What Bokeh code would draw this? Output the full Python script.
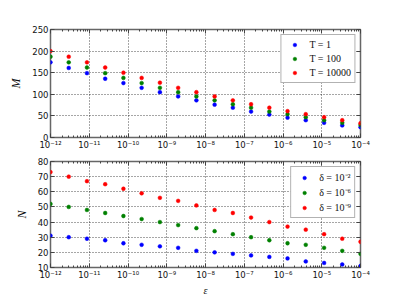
from bokeh.plotting import figure
from bokeh.models import (Range1d, FixedTicker, CustomJSTickFormatter, Legend, LegendItem,
                          LinearAxis, LogAxis)
from bokeh.layouts import column
from bokeh.embed import file_html
from bokeh.resources import INLINE

# ---- data ----
eps = [1.0e-12, 2.955e-12, 8.73e-12, 2.58e-11, 7.62e-11, 2.25e-10, 6.66e-10, 1.97e-9,
       5.82e-9, 1.72e-8, 5.08e-8, 1.50e-7, 4.44e-7, 1.31e-6, 3.87e-6, 1.15e-5, 3.38e-5, 1.0e-4]

M_T1 = [174, 161, 149, 136, 126, 115, 105, 95, 86, 76, 69, 60, 53, 46, 40, 34, 28, 24]
M_T100 = [187, 174, 162, 149, 138, 126, 115, 105, 95, 86, 77, 69, 60, 54, 47, 40, 34, 29]
M_T10000 = [200, 187, 174, 162, 150, 138, 127, 115, 105, 95, 86, 77, 69, 61, 54, 47, 40, 33]

N_d2 = [31, 30, 29, 28, 26, 25, 24, 23, 21, 20, 19, 18, 17, 16, 14, 13, 12, 11]
N_d6 = [52, 50, 48, 46, 44, 42, 40, 38, 36, 34, 32, 30, 28, 26, 25, 23, 21, 19]
N_d9 = [73, 70, 67, 65, 62, 59, 56, 54, 51, 48, 46, 43, 40, 37, 35, 32, 29, 27]

top_labels = ["T = 1", "T = 100", "T = 10000"]
bottom_labels = ["δ = 10⁻²", "δ = 10⁻⁶", "δ = 10⁻⁹"]
colors = ["#0000ff", "#008000", "#ff0000"]

x_ticks = [1e-12, 1e-11, 1e-10, 1e-9, 1e-8, 1e-7, 1e-6, 1e-5, 1e-4]
x_tick_labels = ["10⁻¹²", "10⁻¹¹", "10⁻¹⁰", "10⁻⁹", "10⁻⁸", "10⁻⁷", "10⁻⁶", "10⁻⁵", "10⁻⁴"]
x_minor = [m * t for t in x_ticks[:-1] for m in range(2, 10)]
M_ticks = [0, 50, 100, 150, 200, 250]
N_ticks = [10, 20, 30, 40, 50, 60, 70, 80]

FRAME = "#666666"


def xformatter():
    return CustomJSTickFormatter(args=dict(vals=x_ticks, labels=x_tick_labels), code="""
        let best = 0, bd = 1e9;
        for (let i = 0; i < vals.length; i++) {
            const d = Math.abs(Math.log10(vals[i]) - Math.log10(tick));
            if (d < bd) { bd = d; best = i; }
        }
        return labels[best];
    """)


def style_axis(ax, show_labels=True):
    ax.major_tick_in = 4
    ax.major_tick_out = 0
    ax.minor_tick_in = 2
    ax.minor_tick_out = 0
    ax.axis_line_color = None
    ax.major_tick_line_color = "#444444"
    ax.minor_tick_line_color = "#444444"
    ax.major_label_text_font = "DejaVu Sans"
    if show_labels:
        ax.major_label_text_font_size = "8.5px"
        ax.major_label_standoff = 2
    else:
        ax.major_label_text_font_size = "1px"
        ax.major_label_text_alpha = 0
        ax.major_label_standoff = 0
    ax.major_label_text_color = "#111111"
    ax.axis_label_text_font = "Liberation Serif"
    ax.axis_label_text_font_style = "italic"
    ax.axis_label_text_color = "#111111"


def make_fig(ys, yticks, ylabel, labels, xlabel, height, mb_top, mb_bottom):
    p = figure(x_axis_type="log", width=392, height=height, title=None,
               x_range=Range1d(1e-12, 1e-4), y_range=Range1d(yticks[0], yticks[-1]),
               output_backend="svg", toolbar_location=None,
               min_border_left=50, min_border_right=32,
               min_border_top=mb_top, min_border_bottom=mb_bottom)
    p.outline_line_color = FRAME
    p.outline_line_width = 1.5
    p.background_fill_color = "white"
    p.border_fill_color = "white"

    xt = FixedTicker(ticks=x_ticks, minor_ticks=x_minor)
    yt = FixedTicker(ticks=yticks)
    p.xaxis.ticker = xt
    p.xaxis.formatter = xformatter()
    p.yaxis.ticker = yt
    p.yaxis.axis_label = ylabel
    p.yaxis.axis_label_text_font_size = "12px"
    p.yaxis.axis_label_standoff = 6
    if xlabel:
        p.xaxis.axis_label = xlabel
        p.xaxis.axis_label_text_font_size = "10px"
        p.xaxis.axis_label_standoff = 2
    for ax in p.xaxis + p.yaxis:
        style_axis(ax)
    p.yaxis.minor_tick_line_color = None

    top_ax = LogAxis(ticker=xt)
    right_ax = LinearAxis(ticker=yt)
    style_axis(top_ax, False)
    style_axis(right_ax, False)
    right_ax.minor_tick_line_color = None
    p.add_layout(top_ax, "above")
    p.add_layout(right_ax, "right")

    p.xgrid.grid_line_color = "black"
    p.ygrid.grid_line_color = "black"
    p.xgrid.grid_line_alpha = 0.7
    p.ygrid.grid_line_alpha = 0.7
    p.xgrid.grid_line_dash = "1 2"
    p.ygrid.grid_line_dash = "1 2"
    p.xgrid.grid_line_width = 1
    p.ygrid.grid_line_width = 1

    items = []
    for y, c, lab in zip(ys, colors, labels):
        r = p.scatter(eps, y, size=3.8, color=c, line_color=c, line_width=0.5)
        items.append(LegendItem(label=lab, renderers=[r]))
    leg = Legend(items=items, location="top_right", margin=5, padding=3, spacing=1,
                 glyph_width=20, glyph_height=9, label_height=13, label_standoff=5,
                 label_text_font="Liberation Serif", label_text_font_size="10px",
                 label_text_color="#111111",
                 border_line_color=FRAME, border_line_width=1.5, background_fill_alpha=1)
    p.add_layout(leg, "center")
    return p


p1 = make_fig([M_T1, M_T100, M_T10000], M_ticks, "M", top_labels, None, 152, 29, 14)
p2 = make_fig([N_d2, N_d6, N_d9], N_ticks, "N", bottom_labels, "ε", 146, 9, 29)

layout = column(p1, p2, spacing=0)
open("out.html", "w").write(file_html(layout, INLINE))
